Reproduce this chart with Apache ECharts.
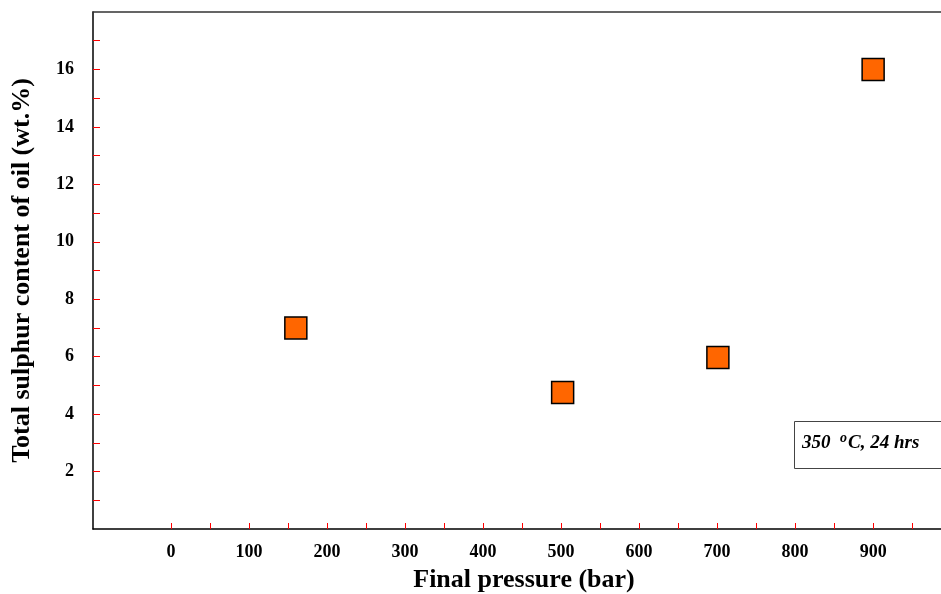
<!DOCTYPE html>
<html><head><meta charset="utf-8">
<script src="https://cdn.jsdelivr.net/npm/echarts@6/dist/echarts.min.js"></script>
<style>html,body{margin:0;padding:0;background:#fff}#c{width:941px;height:594px}</style>
</head><body><div id="c"></div>
<script>
var pressure = [160, 502, 701, 900];
var sulphur = [7.0, 4.75, 5.97, 16.0];
var xTickValues = [0, 50, 100, 150, 200, 250, 300, 350, 400, 450, 500, 550, 600, 650, 700, 750, 800, 850, 900, 950];
var xLabelValues = [0, 100, 200, 300, 400, 500, 600, 700, 800, 900];
var yTickValues = [1, 2, 3, 4, 5, 6, 7, 8, 9, 10, 11, 12, 13, 14, 15, 16, 17];
var yLabelValues = [2, 4, 6, 8, 10, 12, 14, 16];

var font = '"Liberation Serif","Times New Roman",serif';
var chart = echarts.init(document.getElementById('c'));
chart.setOption({
  animation: false,
  grid: {left: 93, top: 12, right: 0, bottom: 65, show: false, containLabel: false, outerBoundsMode: 'none'},
  xAxis: [{
    type: 'value', min: -100, max: 987,
    name: 'Final pressure (bar)', nameLocation: 'middle', nameGap: 38,
    nameTextStyle: {fontFamily: font, fontWeight: 'bold', fontSize: 26, color: '#000', padding: [0, 0, 0, 14]},
    axisLine: {show: true, onZero: false, lineStyle: {color: '#000', width: 1.5}},
    axisTick: {show: true, inside: true, length: 6, customValues: xTickValues, lineStyle: {color: '#ff0000', width: 1}},
    axisLabel: {customValues: xLabelValues, margin: 14, fontFamily: font, fontWeight: 'bold', fontSize: 18, color: '#000'},
    splitLine: {show: false}
  }, {
    type: 'value', position: 'top', min: -100, max: 987,
    axisLine: {show: true, onZero: false, lineStyle: {color: '#333', width: 1.5}},
    axisTick: {show: false}, axisLabel: {show: false}, splitLine: {show: false}
  }],
  yAxis: {
    type: 'value', min: 0, max: 18,
    name: 'Total sulphur content of oil (wt.%)', nameLocation: 'middle', nameGap: 58,
    nameTextStyle: {fontFamily: font, fontWeight: 'bold', fontSize: 26, color: '#000'},
    axisLine: {show: true, onZero: false, lineStyle: {color: '#000', width: 1.5}},
    axisTick: {show: true, inside: true, length: 7, customValues: yTickValues, lineStyle: {color: '#ff0000', width: 1}},
    axisLabel: {customValues: yLabelValues, margin: 19, fontFamily: font, fontWeight: 'bold', fontSize: 18, color: '#000'},
    splitLine: {show: false}
  },
  series: [{
    type: 'scatter',
    symbol: 'rect', symbolSize: 22,
    itemStyle: {color: '#ff6600', borderColor: '#000', borderWidth: 1.5, opacity: 1},
    data: pressure.map(function (p, i) { return [p, sulphur[i]]; })
  }],
  graphic: [{
    type: 'rect', left: 794, top: 421,
    shape: {width: 160, height: 47},
    style: {fill: '#fff', stroke: '#444', lineWidth: 1}
  }, {
    type: 'text', left: 802, top: 431,
    style: {
      text: '{n|350  }{s|o}{n|C, 24 hrs}',
      rich: {
        n: {fontFamily: font, fontWeight: 'bold', fontStyle: 'italic', fontSize: 19, fill: '#000', verticalAlign: 'bottom'},
        s: {fontFamily: font, fontWeight: 'bold', fontStyle: 'italic', fontSize: 14, fill: '#000', verticalAlign: 'top', padding: [0, 1, 8, 0]}
      }
    }
  }]
});
</script></body></html>
